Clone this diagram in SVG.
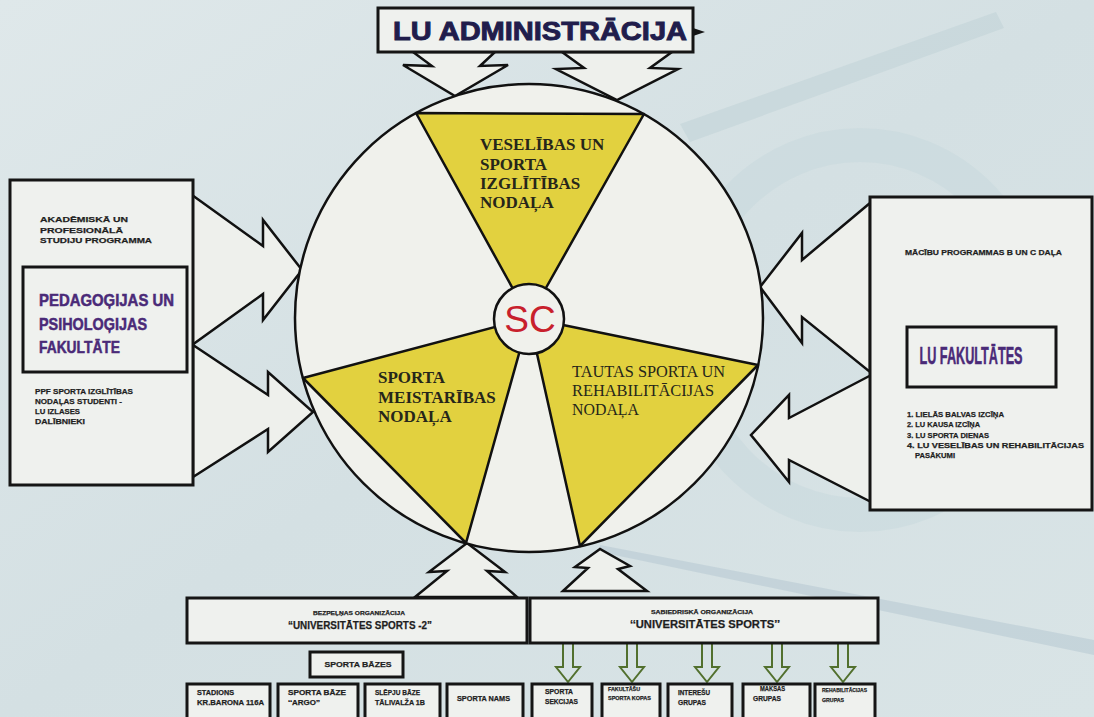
<svg xmlns="http://www.w3.org/2000/svg" width="1094" height="717" viewBox="0 0 1094 717">
<defs>
<linearGradient id="bg" x1="0" y1="0" x2="1" y2="1">
<stop offset="0" stop-color="#dfe8ea"/>
<stop offset="0.5" stop-color="#d4e0e3"/>
<stop offset="1" stop-color="#d9e4e6"/>
</linearGradient>
<style>
.box{fill:#eff1ee;stroke:#151515;stroke-width:3}
.arr{fill:#eef0ec;stroke:#111;stroke-width:2.5;stroke-linejoin:miter}
.garr{fill:none;stroke:#52702e;stroke-width:2;stroke-linejoin:miter}
.s{font-family:'Liberation Sans',Arial,sans-serif;font-weight:bold;fill:#1e1e1e;stroke:#1e1e1e;stroke-width:0.25}
.sf{font-family:'Liberation Serif','Times New Roman',serif;fill:#26261a;font-size:17px}
.pu{font-family:'Liberation Sans',Arial,sans-serif;font-weight:bold;fill:#4a2a78;stroke:#4a2a78;stroke-width:0.5}
.yel{fill:#e2d13f;stroke:#111;stroke-width:2.5;stroke-linejoin:round}
</style>
</defs>
<g id="background">
<rect x="0" y="0" width="1094" height="717" fill="url(#bg)"/>
<polygon points="680,124 996,12 1004,28 690,142" fill="#b9ccd3" opacity="0.4"/>
<ellipse cx="860" cy="330" rx="175" ry="185" fill="none" stroke="#c6d6db" stroke-width="34" opacity="0.45"/>
<polygon points="600,545 1094,640 1094,655 600,552" fill="#a9bfca" opacity="0.4"/>
</g>

<g id="connectors">
<polygon class="arr" points="413,52 432,66 403,65 455,96 508,65 480,66 495,52"/>
<polygon class="arr" points="562,52 584,68 556,69 617,100 678,69 650,68 672,52"/>
<polygon class="arr" points="192,195 263,246 263,220 302,270 263,320 263,294 192,345"/>
<polygon class="arr" points="193,345 268,395 268,372 313,412 268,452 268,429 193,477"/>
<polygon class="arr" points="870,203 802,260 802,233 760,287 802,343 802,317 870,372"/>
<polygon class="arr" points="877,372 789,418 789,395 751,435 789,482 789,460 877,505"/>
<polygon class="arr" points="415,597 447,571 429,572 467,543 505,572 487,571 517,597"/>
<polygon class="arr" points="563,591 588,568 575,567 600,549 630,566 618,569 647,591"/>
<path class="garr" d="M563,643 V667 H556 L568,682 L580,667 H573 V643"/>
<path class="garr" d="M627,643 V667 H620 L632,682 L644,667 H637 V643"/>
<path class="garr" d="M702,643 V667 H695 L707,682 L719,667 H712 V643"/>
<path class="garr" d="M772,643 V667 H765 L777,682 L789,667 H782 V643"/>
<path class="garr" d="M838,643 V667 H831 L843,682 L855,667 H848 V643"/>
</g>

<g id="lu-administracija">
<rect class="box" x="378" y="8" width="315" height="44"/>
<path d="M693,28 L705,32 L693,36 Z" fill="#151515"/>
<text x="540" y="40" text-anchor="middle" font-family="'Liberation Sans',Arial,sans-serif" font-weight="bold" font-size="25" fill="#211d4c" stroke="#211d4c" stroke-width="0.9" textLength="294" lengthAdjust="spacingAndGlyphs">LU ADMINISTRĀCIJA</text>
</g>

<g id="ppf-fakultate">
<rect class="box" x="10" y="180" width="183" height="305" stroke-width="2.5"/>
<text class="s" font-size="8" x="40" y="222" textLength="88" lengthAdjust="spacingAndGlyphs">AKADĒMISKĀ UN</text>
<text class="s" font-size="8" x="40" y="233" textLength="83" lengthAdjust="spacingAndGlyphs">PROFESIONĀLĀ</text>
<text class="s" font-size="8" x="40" y="243" textLength="112" lengthAdjust="spacingAndGlyphs">STUDIJU PROGRAMMA</text>
<rect class="box" x="23" y="267" width="164" height="105" stroke-width="3.5"/>
<text class="pu" font-size="16.5" x="39" y="306" textLength="135" lengthAdjust="spacingAndGlyphs">PEDAGOĢIJAS UN</text>
<text class="pu" font-size="16.5" x="39" y="330" textLength="108" lengthAdjust="spacingAndGlyphs">PSIHOLOĢIJAS</text>
<text class="pu" font-size="16.5" x="39" y="353" textLength="81" lengthAdjust="spacingAndGlyphs">FAKULTĀTE</text>
<text class="s" font-size="8" x="35" y="394" textLength="98" lengthAdjust="spacingAndGlyphs">PPF SPORTA IZGLĪTĪBAS</text>
<text class="s" font-size="8" x="35" y="404" textLength="87" lengthAdjust="spacingAndGlyphs">NODAĻAS STUDENTI -</text>
<text class="s" font-size="8" x="35" y="414" textLength="45" lengthAdjust="spacingAndGlyphs">LU IZLASES</text>
<text class="s" font-size="8" x="35" y="424" textLength="50" lengthAdjust="spacingAndGlyphs">DALĪBNIEKI</text>
</g>

<g id="lu-fakultates">
<rect class="box" x="870" y="197" width="222" height="313" stroke-width="2.5"/>
<text class="s" font-size="7.5" x="905" y="255" textLength="157" lengthAdjust="spacingAndGlyphs">MĀCĪBU PROGRAMMAS B UN C DAĻA</text>
<rect class="box" x="907" y="327" width="149" height="60" stroke-width="3.5"/>
<text class="pu" font-size="23" transform="translate(971,364) scale(0.55,1)" x="0" y="0" text-anchor="middle">LU FAKULTĀTES</text>
<text class="s" font-size="7.5" x="907" y="417" textLength="97" lengthAdjust="spacingAndGlyphs">1. LIELĀS BALVAS IZCĪŅA</text>
<text class="s" font-size="7.5" x="907" y="427" textLength="73" lengthAdjust="spacingAndGlyphs">2. LU KAUSA IZCĪŅA</text>
<text class="s" font-size="7.5" x="907" y="438" textLength="82" lengthAdjust="spacingAndGlyphs">3. LU SPORTA DIENAS</text>
<text class="s" font-size="7.5" x="907" y="448" textLength="177" lengthAdjust="spacingAndGlyphs">4. LU VESELĪBAS UN REHABILITĀCIJAS</text>
<text class="s" font-size="7.5" x="915" y="458" textLength="40" lengthAdjust="spacingAndGlyphs">PASĀKUMI</text>
</g>

<g id="sporta-centrs">
<circle cx="529" cy="318" r="234" fill="#f0f1ec" stroke="#111" stroke-width="2.5"/>
<g id="veselibas-nodala">
<polygon class="yel" points="529,318 416,113 644,114"/>
<text class="sf" font-weight="bold" x="480" y="150">VESELĪBAS UN</text>
<text class="sf" font-weight="bold" x="480" y="170">SPORTA</text>
<text class="sf" font-weight="bold" x="480" y="189">IZGLĪTĪBAS</text>
<text class="sf" font-weight="bold" x="480" y="208">NODAĻA</text>
</g>
<g id="meistaribas-nodala">
<polygon class="yel" points="529,318 303,378 466,543"/>
<text class="sf" font-weight="bold" x="378" y="383">SPORTA</text>
<text class="sf" font-weight="bold" x="378" y="403">MEISTARĪBAS</text>
<text class="sf" font-weight="bold" x="378" y="422">NODAĻA</text>
</g>
<g id="tautas-sporta-nodala">
<polygon class="yel" points="529,318 758,365 580,546"/>
<text class="sf" font-size="16" x="572" y="377" textLength="153" lengthAdjust="spacingAndGlyphs">TAUTAS SPORTA UN</text>
<text class="sf" font-size="16" x="572" y="396" textLength="142" lengthAdjust="spacingAndGlyphs">REHABILITĀCIJAS</text>
<text class="sf" font-size="16" x="572" y="415" textLength="67" lengthAdjust="spacingAndGlyphs">NODAĻA</text>
</g>
<g id="sc">
<circle cx="529" cy="319" r="35" fill="#f0f1ec" stroke="#111" stroke-width="2.5"/>
<text x="530" y="332" text-anchor="middle" font-family="'Liberation Sans',Arial,sans-serif" font-size="37" fill="#c8202c">SC</text>
</g>
</g>

<g id="universitates-sports-2">
<rect class="box" x="187" y="598" width="340" height="45"/>
<text class="s" font-size="5.5" x="359" y="615" text-anchor="middle" textLength="92" lengthAdjust="spacingAndGlyphs">BEZPEĻŅAS ORGANIZĀCIJA</text>
<text class="s" font-size="11.5" x="360" y="629" text-anchor="middle" stroke-width="0.4" textLength="144" lengthAdjust="spacingAndGlyphs">“UNIVERSITĀTES SPORTS -2”</text>
</g>
<g id="universitates-sports">
<rect class="box" x="530" y="598" width="348" height="45"/>
<text class="s" font-size="5.5" x="702" y="614" text-anchor="middle" textLength="102" lengthAdjust="spacingAndGlyphs">SABIEDRISKĀ ORGANIZĀCIJA</text>
<text class="s" font-size="11.5" x="705" y="628" text-anchor="middle" stroke-width="0.4" textLength="150" lengthAdjust="spacingAndGlyphs">‘‘UNIVERSITĀTES SPORTS’’</text>
</g>
<g id="sporta-bazes">
<rect class="box" x="310" y="652" width="93" height="25"/>
<text class="s" font-size="8" x="358" y="667" text-anchor="middle" textLength="67" lengthAdjust="spacingAndGlyphs">SPORTA BĀZES</text>
</g>
<g id="stadions">
<rect class="box" x="187" y="684" width="83" height="40"/>
<text class="s" font-size="7" x="197" y="695" textLength="37" lengthAdjust="spacingAndGlyphs">STADIONS</text>
<text class="s" font-size="7" x="197" y="705" textLength="67" lengthAdjust="spacingAndGlyphs">KR.BARONA 116A</text>
</g>
<g id="argo">
<rect class="box" x="278" y="684" width="80" height="40"/>
<text class="s" font-size="7" x="288" y="695" textLength="58" lengthAdjust="spacingAndGlyphs">SPORTA BĀZE</text>
<text class="s" font-size="7" x="288" y="705" textLength="32" lengthAdjust="spacingAndGlyphs">‘‘ARGO’’</text>
</g>
<g id="slepju-baze">
<rect class="box" x="365" y="684" width="75" height="40"/>
<text class="s" font-size="7" x="375" y="695" textLength="45" lengthAdjust="spacingAndGlyphs">SLĒPJU BĀZE</text>
<text class="s" font-size="7" x="375" y="705" textLength="50" lengthAdjust="spacingAndGlyphs">TĀLIVALŽA 1B</text>
</g>
<g id="sporta-nams">
<rect class="box" x="447" y="684" width="76" height="40"/>
<text class="s" font-size="7" x="457" y="701" textLength="53" lengthAdjust="spacingAndGlyphs">SPORTA NAMS</text>
</g>
<g id="sporta-sekcijas">
<rect class="box" x="532" y="684" width="60" height="40"/>
<text class="s" font-size="6.5" x="545" y="694" textLength="28" lengthAdjust="spacingAndGlyphs">SPORTA</text>
<text class="s" font-size="6.5" x="545" y="704" textLength="33" lengthAdjust="spacingAndGlyphs">SEKCIJAS</text>
</g>
<g id="fakultasu-sporta-kopas">
<rect class="box" x="602" y="684" width="58" height="40"/>
<text class="s" font-size="5.5" x="608" y="691" textLength="32" lengthAdjust="spacingAndGlyphs">FAKULTĀŠU</text>
<text class="s" font-size="5.5" x="608" y="700" textLength="43" lengthAdjust="spacingAndGlyphs">SPORTA KOPAS</text>
</g>
<g id="interesu-grupas">
<rect class="box" x="668" y="684" width="64" height="40"/>
<text class="s" font-size="6.5" x="678" y="695" textLength="32" lengthAdjust="spacingAndGlyphs">INTEREŠU</text>
<text class="s" font-size="6.5" x="678" y="705" textLength="28" lengthAdjust="spacingAndGlyphs">GRUPAS</text>
</g>
<g id="maksas-grupas">
<rect class="box" x="743" y="684" width="67" height="40"/>
<text class="s" font-size="6.5" x="760" y="691" textLength="25" lengthAdjust="spacingAndGlyphs">MAKSAS</text>
<text class="s" font-size="6.5" x="753" y="701" textLength="28" lengthAdjust="spacingAndGlyphs">GRUPAS</text>
</g>
<g id="rehabilitacijas-grupas">
<rect class="box" x="815" y="684" width="60" height="40"/>
<text class="s" font-size="5.5" x="822" y="692" textLength="45" lengthAdjust="spacingAndGlyphs">REHABILITĀCIJAS</text>
<text class="s" font-size="5.5" x="822" y="702" textLength="22" lengthAdjust="spacingAndGlyphs">GRUPAS</text>
</g>
</svg>
